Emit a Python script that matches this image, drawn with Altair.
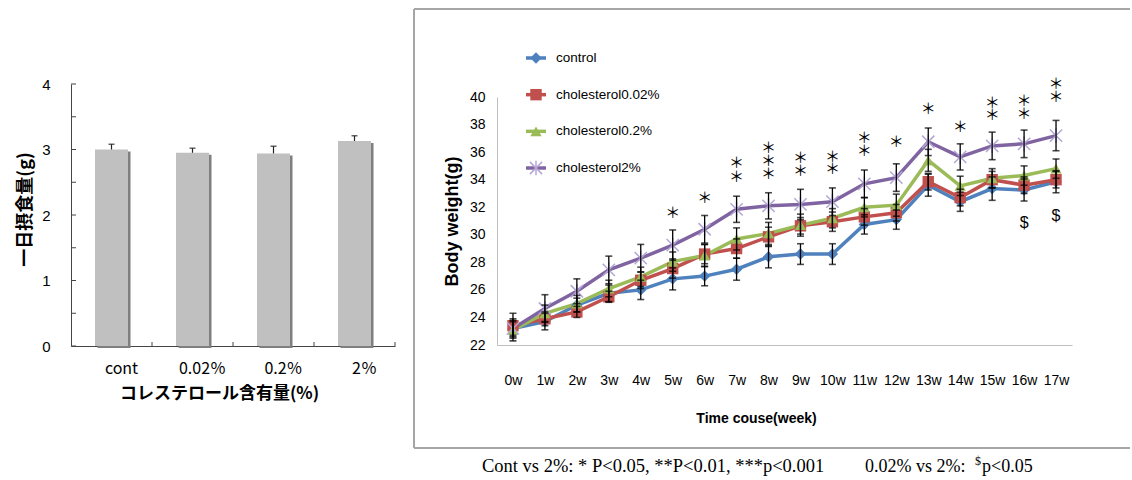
import altair as alt
import pandas as pd

# ---------------- Left panel: daily food intake ----------------
groups = ["cont", "0.02％", "0.2％", "2％"]
intake = [3.00, 2.95, 2.94, 3.13]
intake_err = [0.08, 0.07, 0.11, 0.08]
intake_ticks = [0, 0.5, 1, 1.5, 2, 2.5, 3, 3.5, 4]
intake_labels = [0, 1, 2, 3, 4]

# ---------------- Right panel: body weight ----------------
weeks = ["0w", "1w", "2w", "3w", "4w", "5w", "6w", "7w", "8w", "9w",
         "10w", "11w", "12w", "13w", "14w", "15w", "16w", "17w"]
series_names = ["control", "cholesterol0.02%", "cholesterol0.2%", "cholesterol2%"]
control = [23.2, 23.7, 24.9, 25.75, 26.0, 26.8, 27.0, 27.5, 28.4, 28.6,
           28.6, 30.75, 31.1, 33.6, 32.4, 33.35, 33.25, 33.85]
chol_002 = [23.4, 23.9, 24.4, 25.5, 26.7, 27.55, 28.6, 29.0, 29.85, 30.65,
            30.95, 31.3, 31.6, 33.85, 32.7, 34.0, 33.6, 34.0]
chol_02 = [23.1, 24.3, 25.0, 26.1, 26.95, 28.05, 28.5, 29.7, 30.1, 30.7,
           31.2, 32.0, 32.15, 35.4, 33.55, 34.1, 34.3, 34.8]
chol_2 = [23.2, 24.65, 25.9, 27.45, 28.3, 29.25, 30.4, 31.85, 32.1, 32.2,
          32.4, 33.7, 34.15, 36.75, 35.65, 36.45, 36.6, 37.2]
control_err = [0.6, 0.6, 0.5, 0.6, 0.7, 0.8, 0.7, 0.8, 0.8, 0.75,
               0.75, 0.7, 0.7, 0.8, 0.7, 0.85, 0.8, 0.8]
chol_002_err = [0.9, 0.5, 0.4, 0.4, 0.6, 0.7, 0.7, 0.7, 0.7, 0.6,
                0.7, 0.6, 0.6, 0.6, 0.6, 0.6, 0.6, 0.6]
chol_02_err = [0.8, 0.6, 0.6, 0.6, 0.7, 0.7, 0.8, 0.8, 0.8, 0.8,
               0.7, 0.7, 0.8, 0.8, 0.7, 0.7, 0.7, 0.7]
chol_2_err = [0.5, 1.0, 0.9, 1.0, 1.0, 1.1, 1.0, 0.95, 0.95, 1.1,
              1.0, 1.0, 1.0, 1.0, 0.95, 1.0, 1.0, 1.1]
weight_ticks = [22, 24, 26, 28, 30, 32, 34, 36, 38, 40]

star_weeks = ["5w", "6w", "7w", "7w", "8w", "8w", "8w", "9w", "9w", "10w", "10w",
              "11w", "11w", "12w", "13w", "14w", "15w", "15w", "16w", "16w", "17w", "17w"]
star_y = [31.6, 32.7, 34.2, 35.2, 34.4, 35.35, 36.3, 34.65, 35.55, 34.75, 35.65,
          36.1, 37.0, 36.7, 39.1, 37.8, 38.7, 39.6, 38.8, 39.7, 40.0, 40.95]
dollar_weeks = ["16w", "17w"]
dollar_y = [30.85, 31.38]

colors = ["#4F81BD", "#C0504D", "#9BBB59", "#8064A2"]
STAR = "M-1,-1L1,1M-1,1L1,-1M0,-1.2L0,1.2"

CJK = "Noto Sans CJK JP"
SANS = "Liberation Sans"
SERIF = "Liberation Serif"

# ================= Left chart =================
bar_df = pd.DataFrame({"group": groups, "intake": intake, "err": intake_err})
bar_df["top"] = bar_df["intake"] + bar_df["err"]
tick_df = pd.DataFrame({"tick": intake_ticks})

LH = 249  # plot height in pixels (axis range runs from -13 to 249)

left_x_axis = alt.Axis(labelFont=CJK, labelFontSize=16, labelColor="#000", labelAngle=0,
                       labelPadding=14, labelOffset=10, ticks=False, tickSize=0,
                       domainColor="#444", titleFont=CJK, titleFontSize=17,
                       titleFontWeight="bold", titleColor="#000", titleX=148, titleY=47,
                       titleBaseline="middle")
left_y_axis = alt.Axis(values=intake_labels, labelFont=SANS, labelFontSize=15, labelColor="#000",
                       ticks=False, tickSize=0, labelPadding=21, domainColor="#444", grid=False,
                       titleFont=CJK, titleFontSize=18, titleFontWeight="bold", titleColor="#000",
                       titleX=-46, titleY=112, titleAngle=270, titleBaseline="middle",
                       titleAlign="center")


def lx(**kw):
    return alt.X("group:N", sort=groups,
                 scale=alt.Scale(type="band", paddingInner=0, paddingOuter=0),
                 axis=left_x_axis, title="コレステロール含有量(%)", **kw)


def ly(field):
    return alt.Y(f"{field}:Q", scale=alt.Scale(domain=[0, 4], range=[LH, -13]),
                 axis=left_y_axis, title="一日摂食量(g)")


empty = alt.Data(values=[{}])
shadow = alt.Chart(bar_df).mark_bar(color="#7f7f7f", size=33, xOffset=2.5, yOffset=2).encode(
    x=lx(), y=ly("intake"))
bars = alt.Chart(bar_df).mark_bar(color="#c0c0c0", size=33).encode(x=lx(), y=ly("intake"))
err_rule_l = alt.Chart(bar_df).mark_rule(color="#222", strokeWidth=1.2).encode(
    x=lx(), y=ly("intake"), y2="top:Q")
err_cap_l = alt.Chart(bar_df).mark_tick(color="#222", size=6, thickness=1.5,
                                        orient="horizontal").encode(x=lx(), y=ly("top"))
ytk = alt.Chart(tick_df).mark_rule(color="#444").encode(
    x=alt.value(0), x2=alt.value(5), y=ly("tick"))
xtk = alt.Chart(bar_df).mark_rule(color="#444").encode(
    x=lx(bandPosition=1), y=alt.value(LH - 4), y2=alt.value(LH))

left = alt.layer(shadow, bars, err_rule_l, err_cap_l, ytk, xtk).properties(
    width=324, height=LH)

# ================= Right chart =================
rows = []
for name, vals, errs in zip(series_names, [control, chol_002, chol_02, chol_2],
                            [control_err, chol_002_err, chol_02_err, chol_2_err]):
    for w, v, e in zip(weeks, vals, errs):
        rows.append({"week": w, "series": name, "weight": v, "lo": v - e, "hi": v + e})
df = pd.DataFrame(rows)
star_df = pd.DataFrame({"week": star_weeks, "y": star_y})
dollar_df = pd.DataFrame({"week": dollar_weeks, "y": dollar_y})

right_x_axis = alt.Axis(labelFont=SANS, labelFontSize=14, labelColor="#000", labelAngle=0,
                        labelPadding=28, ticks=False, tickSize=0, domainColor="#bfbfbf",
                        titleFont=SANS, titleFontSize=14, titleFontWeight="bold",
                        titleColor="#000", titleX=259, titleY=73, titleBaseline="middle")
right_y_axis = alt.Axis(values=weight_ticks, labelFont=SANS, labelFontSize=14,
                        labelColor="#000", labelPadding=12, ticks=False, tickSize=0,
                        domainColor="#bfbfbf", grid=False, titleFont=SANS, titleFontSize=18,
                        titleFontWeight="bold", titleColor="#000", titleX=-45, titleY=124,
                        titleAngle=270, titleBaseline="middle", titleAlign="center")


def rx():
    return alt.X("week:N", sort=weeks, scale=alt.Scale(type="point", padding=0.5),
                 axis=right_x_axis, title="Time couse(week)")


def ry(field):
    return alt.Y(f"{field}:Q", scale=alt.Scale(domain=[22, 40]), axis=right_y_axis,
                 title="Body weight(g)")


color_scale = alt.Scale(domain=series_names, range=colors)
shape_scale = alt.Scale(domain=series_names[:3], range=["diamond", "square", "triangle-up"])
col = alt.Color("series:N", scale=color_scale, legend=None)
shp = alt.Shape("series:N", scale=shape_scale, legend=None)
is_star = alt.datum.series == series_names[3]
not_star = alt.datum.series != series_names[3]

lines = alt.Chart(df).mark_line(strokeWidth=3.5).encode(x=rx(), y=ry("weight"), color=col)
markers = alt.Chart(df).transform_filter(not_star).mark_point(
    filled=True, size=130, opacity=1).encode(x=rx(), y=ry("weight"), color=col, shape=shp)
stars_m = alt.Chart(df).transform_filter(is_star).mark_point(
    shape=STAR, size=150, filled=False, color="#b4a7d6", strokeWidth=1.5, opacity=1).encode(
    x=rx(), y=ry("weight"))
err_rule = alt.Chart(df).mark_rule(color="black", strokeWidth=1.3).encode(
    x=rx(), y=ry("lo"), y2="hi:Q")
err_caps = alt.Chart(df).transform_fold(["lo", "hi"], as_=["end", "val"]).mark_tick(
    color="black", size=7, thickness=1.6, orient="horizontal").encode(x=rx(), y=ry("val"))
sig = alt.Chart(star_df).mark_text(text="＊", font=CJK, fontSize=15, baseline="middle",
                                   color="#000").encode(x=rx(), y=ry("y"))
dol = alt.Chart(dollar_df).mark_text(text="$", font=SANS, fontSize=16, baseline="middle",
                                     color="#000").encode(x=rx(), y=ry("y"))
main = alt.layer(lines, markers, stars_m, err_rule, err_caps, sig, dol)

leg_df = pd.DataFrame({"series": series_names})
ly_leg = alt.Y("series:N", sort=series_names,
               scale=alt.Scale(type="point", domain=series_names, range=[-39, 71], padding=0),
               axis=None)
leg_line = alt.Chart(leg_df).mark_rule(strokeWidth=3.5).encode(
    x=alt.value(29), x2=alt.value(49), y=ly_leg, color=col)
leg_pts = alt.Chart(leg_df).transform_filter(not_star).mark_point(
    filled=True, size=130, opacity=1).encode(x=alt.value(39), y=ly_leg, color=col, shape=shp)
leg_star = alt.Chart(leg_df).transform_filter(is_star).mark_point(
    shape=STAR, size=150, filled=False, color="#b4a7d6", strokeWidth=1.5, opacity=1).encode(
    x=alt.value(39), y=ly_leg)
leg_text = alt.Chart(leg_df).mark_text(align="left", baseline="middle", font=SANS,
                                       fontSize=13.5, color="#000").encode(
    x=alt.value(59), y=ly_leg, text="series:N")
legend = alt.layer(leg_line, leg_pts, leg_star, leg_text)

BORDER = "#a6a6a6"
b_top = alt.Chart(empty).mark_rule(color=BORDER, strokeWidth=2).encode(
    x=alt.value(-83), x2=alt.value(633), y=alt.value(-88))
b_left = alt.Chart(empty).mark_rule(color=BORDER, strokeWidth=2).encode(
    x=alt.value(-83), y=alt.value(-88), y2=alt.value(351))
b_bot = alt.Chart(empty).mark_rule(color=BORDER, strokeWidth=2).encode(
    x=alt.value(-83), x2=alt.value(633), y=alt.value(351))
cap1 = alt.Chart(empty).mark_text(text="Cont vs 2%: * P<0.05, **P<0.01, ***p<0.001",
                                  font=SERIF, fontSize=18.5, align="left",
                                  baseline="alphabetic", color="#000").encode(
    x=alt.value(-15), y=alt.value(375))
cap2 = alt.Chart(empty).mark_text(text="0.02% vs 2%:", font=SERIF, fontSize=18, align="left",
                                  baseline="alphabetic", color="#000").encode(
    x=alt.value(368), y=alt.value(375))
cap3 = alt.Chart(empty).mark_text(text="$", font=SERIF, fontSize=12, align="left",
                                  baseline="alphabetic", color="#000").encode(
    x=alt.value(478), y=alt.value(368))
cap4 = alt.Chart(empty).mark_text(text="p<0.05", font=SERIF, fontSize=18, align="left",
                                  baseline="alphabetic", color="#000").encode(
    x=alt.value(485), y=alt.value(375))
deco = alt.layer(b_top, b_left, b_bot, cap1, cap2, cap3, cap4)

right = alt.layer(deco, main, legend).resolve_scale(y="independent").properties(
    width=575, height=248)

chart = alt.hconcat(left, right, spacing=17).properties(
    padding={"left": 16, "top": 8, "right": 0, "bottom": 0}
).configure_view(stroke=None)

chart.save("out.html", embed_options={"renderer": "svg", "actions": False})
